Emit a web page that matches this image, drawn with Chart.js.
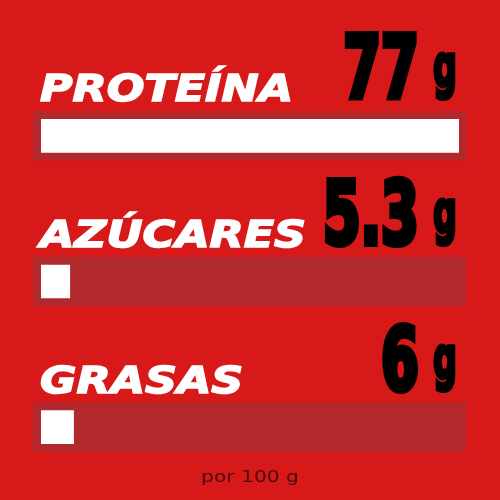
<!DOCTYPE html>
<html lang="es">

<head>
  <meta charset="UTF-8" />
  <meta name="viewport" content="width=device-width, initial-scale=1.0" />
  <title>Nutrición</title>
  <style>
    html, body { margin: 0; padding: 0; background: #d7191a; }
    #wrap { width: 500px; height: 500px; }
  </style>
</head>

<body>
  <div id="wrap">
    <canvas id="myChart"></canvas>
  </div>

  <script src="https://cdn.jsdelivr.net/npm/chart.js"></script>

  <script>
    // chart data
    const categories = ["PROTEÍNA", "AZÚCARES", "GRASAS"];
    const values = [77, 5.3, 6];
    const valueLabels = ["77", "5.3", "6"];
    const unit = "g";
    const footnote = "por 100 g";

    const bgRed = "#d7191a";
    const trackRed = "#b2292d";

    // draws text squeezed/stretched horizontally by sx, optional stroke to fatten it
    const drawScaled = (ctx, text, x, y, sx, align, lw) => {
      ctx.save();
      ctx.translate(x, y);
      ctx.scale(sx, 1);
      ctx.textAlign = align;
      if (lw) {
        ctx.lineWidth = lw;
        ctx.lineJoin = "miter";
        ctx.miterLimit = 3;
        ctx.strokeStyle = ctx.fillStyle;
        ctx.strokeText(text, 0, 0);
      }
      ctx.fillText(text, 0, 0);
      ctx.restore();
    };

    const backgroundPlugin = {
      id: "bg",
      beforeDraw(chart) {
        const c = chart.ctx;
        c.save();
        c.fillStyle = bgRed;
        c.fillRect(0, 0, chart.width, chart.height);
        c.restore();
      },
    };

    // dark track behind every bar, a bit larger than the bar itself
    const trackPlugin = {
      id: "track",
      beforeDatasetsDraw(chart) {
        const c = chart.ctx;
        const area = chart.chartArea;
        const meta = chart.getDatasetMeta(0);
        c.save();
        c.fillStyle = trackRed;
        meta.data.forEach((bar) => {
          const top = bar.y - bar.height / 2 - 8;
          c.fillRect(area.left - 8, top, area.right - area.left + 15, bar.height + 16);
        });
        c.restore();
      },
    };

    const textPlugin = {
      id: "texts",
      afterDatasetsDraw(chart) {
        const c = chart.ctx;
        const meta = chart.getDatasetMeta(0);
        c.save();
        c.textBaseline = "alphabetic";

        const numFamily = "'Liberation Sans Narrow', 'DejaVu Sans Condensed', 'Liberation Sans', sans-serif";
        const numLw = 6;
        // digits ~71px tall including the fattening stroke
        c.font = "bold 100px " + numFamily;
        const m0 = c.measureText("0");
        const numSize = (100 * (71 - numLw)) / m0.actualBoundingBoxAscent;
        c.font = "bold " + numSize + "px " + numFamily;
        const numSx = 42 / (c.measureText("0").width + numLw);

        const gLw = 4;
        c.font = "bold 100px " + numFamily;
        const mg = c.measureText("g");
        const gSize = (100 * (50 - gLw)) / (mg.actualBoundingBoxAscent + mg.actualBoundingBoxDescent);
        c.font = "bold " + gSize + "px " + numFamily;
        const mg2 = c.measureText("g");
        const gSx = 26 / (mg2.width + gLw);
        const gDesc = mg2.actualBoundingBoxDescent + gLw / 2;

        meta.data.forEach((bar, i) => {
          const base = bar.y - bar.height / 2 - 8 - 10;

          c.fillStyle = "#ffffff";
          c.font = "bold italic 37px 'DejaVu Sans', sans-serif";
          drawScaled(c, categories[i], 40, base, 1.2, "left", 1.5);

          c.fillStyle = "#000000";
          c.font = "bold " + numSize + "px " + numFamily;
          drawScaled(c, valueLabels[i], 421 - (numLw / 2) * numSx, base - numLw / 2, numSx, "right", numLw);

          c.font = "bold " + gSize + "px " + numFamily;
          drawScaled(c, unit, 432 + (gLw / 2) * gSx, base - gDesc, gSx, "left", gLw);
        });

        c.fillStyle = "#4a0a0a";
        c.font = "15px 'DejaVu Sans', sans-serif";
        drawScaled(c, footnote, 250, 482, 1.35, "center");
        c.restore();
      },
    };

    const ctx = document.getElementById("myChart");

    new Chart(ctx, {
      type: "bar",
      data: {
        labels: categories,
        datasets: [
          {
            data: values,
            backgroundColor: "#ffffff",
            borderWidth: 0,
            barThickness: 33,
          },
        ],
      },
      options: {
        indexAxis: "y",
        responsive: true,
        maintainAspectRatio: false,
        animation: false,
        layout: {
          padding: { left: 41, right: 41, top: 63, bottom: 0 },
        },
        plugins: {
          legend: { display: false },
          tooltip: { enabled: false },
        },
        scales: {
          x: { display: false, min: 0, max: Math.max(...values) },
          y: { display: false },
        },
      },
      plugins: [backgroundPlugin, trackPlugin, textPlugin],
    });
  </script>
</body>

</html>
